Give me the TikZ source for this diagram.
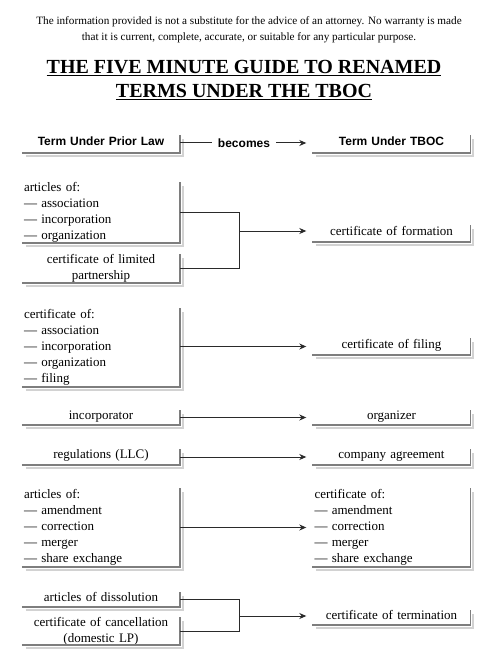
\documentclass[tikz,border=0pt]{standalone}
\usepackage{fontspec}
\setmainfont{Liberation Serif}
\newfontfamily\hdrfont{Liberation Sans}
\usetikzlibrary{arrows.meta}
\definecolor{edgegrey}{HTML}{7E7E7E}
\definecolor{shadowgrey}{HTML}{D2D2D2}
\definecolor{linegrey}{HTML}{2A2A2A}
\tikzset{
  termbox/.style={rectangle, inner sep=0pt, minimum width=158pt, text width=154pt,
    font=\fontsize{13}{16}\selectfont},
  ctr/.style={termbox, align=center},
  one/.style={ctr, text depth=5.5pt, text height=9pt},
  lft/.style={termbox, align=left},
  hdrbox/.style={termbox, align=center, text depth=6pt, text height=9pt, font=\hdrfont\bfseries\fontsize{12}{14}\selectfont},
  conn/.style={draw=linegrey, line width=1pt},
  arr/.style={conn, -{Stealth[length=7pt,width=6pt]}, shorten >=6pt},
}
\newcommand{\boxedges}[1]{%
  \draw[shadowgrey, line width=2pt] ([shift={(4pt,-2.5pt)}]#1.south west) -- ([shift={(2.5pt,-2.5pt)}]#1.south east) -- ([shift={(2.5pt,-4pt)}]#1.north east);
  \draw[edgegrey, line width=1.5pt] (#1.south west) -- (#1.south east) -- (#1.north east);
}
\begin{document}
\begin{tikzpicture}[x=1pt,y=-1pt]
\useasboundingbox (0,0) rectangle (498,660);
% disclaimer and title
\node[font=\fontsize{11.2}{16}\selectfont, align=center] (disc) at (249,30)
  {The information provided is not a substitute for the advice of an attorney. No warranty is made\\
   that it is current, complete, accurate, or suitable for any particular purpose.};
\node[font=\bfseries\fontsize{20}{24}\selectfont, align=center] (title) at (244,80)
  {\underline{THE FIVE MINUTE GUIDE TO RENAMED}\\ \underline{TERMS UNDER THE TBOC}};

% header
\node[hdrbox, minimum height=18pt] (hL) at (101,144) {Term Under Prior Law};
\node[hdrbox, minimum height=18pt] (hR) at (391.5,144) {Term Under TBOC};
\node[font=\hdrfont\bfseries\fontsize{12}{14}\selectfont, inner sep=2pt] (bec) at (244,143) {becomes};
\boxedges{hL}\boxedges{hR}
\coordinate (hy) at (0,143);
\draw[conn] (hL.east |- hy) -- ([xshift=-4pt]bec.west);
\draw[arr] ([xshift=4pt]bec.east) -- (hR.west |- bec.east);

% formation
\node[lft, minimum height=61pt] (a1) at (101,212.5)
  {articles of:\\— association\\— incorporation\\— organization};
\node[ctr, minimum height=29pt] (a2) at (101,268.5)
  {certificate of limited\\partnership};
\node[one, minimum height=17pt] (f1) at (391.5,233.5) {certificate of formation};
\boxedges{a1}\boxedges{a2}\boxedges{f1}
\coordinate (j1) at (239,231);
\draw[conn] (a1.east) -| (j1);
\draw[conn] (a2.east) -| (j1);
\draw[arr] (j1) -- (f1.west |- j1);

% filing
\node[lft, minimum height=79pt] (b1) at (101,347.5)
  {certificate of:\\— association\\— incorporation\\— organization\\— filing};
\node[one, minimum height=17pt] (f2) at (391.5,346.5) {certificate of filing};
\boxedges{b1}\boxedges{f2}
\draw[arr] (b1.east |- f2.west) -- (f2.west);

% incorporator
\node[one, minimum height=15pt] (c1) at (101,417.5) {incorporator};
\node[one, minimum height=15pt] (c2) at (391.5,417.5) {organizer};
\boxedges{c1}\boxedges{c2}
\draw[arr] (c1.east) -- (c2.west);

% regulations
\node[one, minimum height=16pt] (d1) at (101,457) {regulations (LLC)};
\node[one, minimum height=16pt] (d2) at (391.5,457) {company agreement};
\boxedges{d1}\boxedges{d2}
\draw[arr] (d1.east) -- (d2.west);

% amendment
\node[lft, minimum height=79pt] (e1) at (101,527.5)
  {articles of:\\— amendment\\— correction\\— merger\\— share exchange};
\node[lft, minimum height=79pt] (e2) at (391.5,527.5)
  {certificate of:\\— amendment\\— correction\\— merger\\— share exchange};
\boxedges{e1}\boxedges{e2}
\draw[arr] (e1.east) -- (e2.west);

% termination
\node[one, minimum height=15pt] (g1) at (101,599.5) {articles of dissolution};
\node[ctr, minimum height=28pt] (g2) at (101,631) {certificate of cancellation\\(domestic LP)};
\node[one, minimum height=15pt] (g3) at (391.5,617.5) {certificate of termination};
\boxedges{g1}\boxedges{g2}\boxedges{g3}
\coordinate (j2) at (239,616);
\draw[conn] (g1.east) -| (j2);
\draw[conn] (g2.east) -| (j2);
\draw[arr] (j2) -- (g3.west |- j2);
\end{tikzpicture}
\end{document}
